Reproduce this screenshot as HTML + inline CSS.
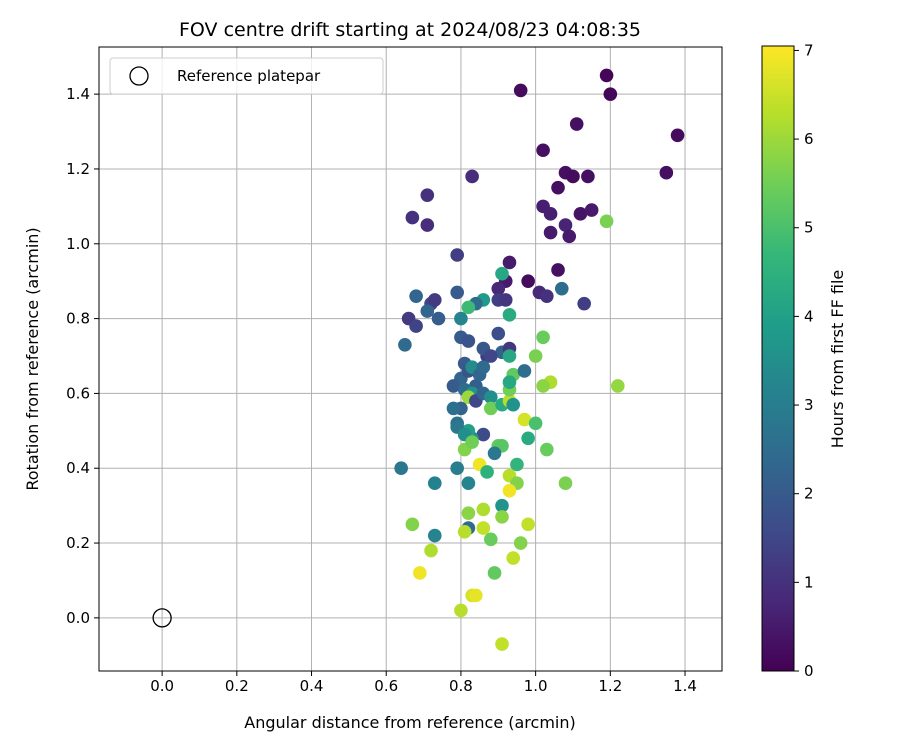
<!DOCTYPE html>
<html><head><meta charset="utf-8"><style>
body{margin:0;background:#fff;font-family:"Liberation Sans","DejaVu Sans",sans-serif}
svg text{font-family:"DejaVu Sans","Liberation Sans",sans-serif;fill:#000}
</style></head><body>
<svg id="chart" width="900" height="750" xmlns="http://www.w3.org/2000/svg">
<rect width="900" height="750" fill="#fff"/>
<g id="grid"></g><g id="pts"></g><g id="axes"></g>
</svg>
<script>
const xs=[1.19,0.96,1.20,1.38,1.11,1.02,0.83,1.35,1.08,1.10,1.14,1.06,0.71,1.02,1.04,1.12,1.15,0.67,1.08,0.71,1.04,1.09,0.79,0.93,1.06,0.98,0.92,0.90,1.19,0.91,1.01,1.03,0.79,0.68,0.86,0.84,0.82,0.90,0.92,1.07,1.13,0.72,0.73,0.71,0.74,0.66,0.80,0.68,0.93,0.65,0.80,0.82,0.90,0.91,0.87,0.93,0.86,0.88,0.93,0.94,0.97,1.00,1.02,1.04,1.22,1.02,0.80,0.81,0.82,0.83,0.84,0.85,0.86,0.78,0.81,0.83,0.82,0.80,0.78,0.84,0.86,0.88,0.88,0.91,0.93,0.93,0.93,0.94,0.86,0.83,0.82,0.79,0.79,0.81,0.81,0.83,0.90,0.91,0.89,0.85,0.87,0.82,0.79,0.64,0.73,0.95,0.98,0.97,1.00,1.03,1.08,0.93,0.95,0.93,0.91,0.91,0.86,0.82,0.82,0.81,0.86,0.88,0.96,0.98,0.67,0.73,0.72,0.69,0.94,0.89,0.83,0.84,0.80,0.91];
const ys=[1.45,1.41,1.40,1.29,1.32,1.25,1.18,1.19,1.19,1.18,1.18,1.15,1.13,1.10,1.08,1.08,1.09,1.07,1.05,1.05,1.03,1.02,0.97,0.95,0.93,0.90,0.90,0.88,1.06,0.92,0.87,0.86,0.87,0.86,0.85,0.84,0.83,0.85,0.85,0.88,0.84,0.84,0.85,0.82,0.80,0.80,0.80,0.78,0.81,0.73,0.75,0.74,0.76,0.71,0.70,0.72,0.72,0.70,0.70,0.65,0.66,0.70,0.75,0.63,0.62,0.62,0.64,0.68,0.66,0.67,0.62,0.65,0.67,0.62,0.61,0.60,0.59,0.56,0.56,0.58,0.60,0.59,0.56,0.57,0.58,0.61,0.63,0.57,0.49,0.48,0.50,0.52,0.51,0.49,0.45,0.47,0.46,0.46,0.44,0.41,0.39,0.36,0.40,0.40,0.36,0.41,0.48,0.53,0.52,0.45,0.36,0.38,0.36,0.34,0.30,0.27,0.29,0.28,0.24,0.23,0.24,0.21,0.20,0.25,0.25,0.22,0.18,0.12,0.16,0.12,0.06,0.06,0.02,-0.07];
const hours=[0.1,0.2,0.1,0.2,0.3,0.3,0.9,0.3,0.3,0.2,0.3,0.3,1.0,0.6,0.6,0.4,0.5,1.0,0.7,0.9,0.5,0.5,1.3,0.5,0.3,0.2,0.5,0.8,5.6,4.2,0.8,1.0,2.0,2.3,3.8,2.5,4.8,1.3,1.1,2.5,1.3,1.5,1.2,2.3,2.1,1.2,3.2,1.4,4.3,2.4,2.0,1.8,1.7,2.2,1.2,1.1,1.9,1.5,4.2,5.3,2.5,5.6,5.4,6.2,5.9,5.8,2.3,2.0,1.8,3.4,2.1,2.3,2.4,2.0,2.5,3.6,6.0,2.2,2.6,1.5,2.3,3.5,5.5,4.3,6.3,5.5,4.2,3.6,1.6,3.4,4.0,2.6,2.8,3.5,5.7,5.5,5.3,5.2,2.8,6.9,4.5,3.2,3.0,2.8,3.1,4.6,4.3,6.6,5.0,5.4,5.6,6.3,5.7,6.9,3.6,5.8,6.2,5.8,2.4,6.3,6.4,5.4,5.7,6.4,5.7,3.2,6.2,6.9,6.4,5.3,6.6,6.8,6.3,6.4];
const xTicks=[0.0,0.2,0.4,0.6,0.8,1.0,1.2,1.4];
const yTicks=[0.0,0.2,0.4,0.6,0.8,1.0,1.2,1.4];
const cTicks=[0,1,2,3,4,5,6,7];
const L=99,R=722,T=47,B=671;
const xmin=-0.169,xmax=1.499,ymin=-0.142,ymax=1.526,cmax=7.05;
const X=v=>L+(v-xmin)/(xmax-xmin)*(R-L);
const Y=v=>B-(v-ymin)/(ymax-ymin)*(B-T);
const CY=v=>671-v/cmax*(671-46);
const V=[[68,1,84],[72,40,120],[62,74,137],[49,104,142],[38,130,142],[31,158,137],[53,183,121],[110,206,88],[181,222,43],[253,231,37]];
function vir(h){let t=Math.max(0,Math.min(1,h/cmax))*(V.length-1);let i=Math.min(V.length-2,Math.floor(t)),f=t-i;
return 'rgb('+V[i].map((c,k)=>Math.round(c+(V[i+1][k]-c)*f)).join(',')+')';}
const NS='http://www.w3.org/2000/svg';
function mk(tag,a,parent){const e=document.createElementNS(NS,tag);for(const k in a)e.setAttribute(k,a[k]);parent.appendChild(e);return e;}
const grid=document.getElementById('grid'),pts=document.getElementById('pts'),ax=document.getElementById('axes');
xTicks.forEach(v=>{const g=mk('line',{x1:X(v),x2:X(v),y1:T,y2:B,stroke:'#b0b0b0','stroke-width':1},grid);


mk('line',{x1:X(v),x2:X(v),y1:B,y2:B+5,stroke:'#000'},ax);
const t=mk('text',{x:X(v),y:B+20,'text-anchor':'middle','font-size':'15'},ax);t.textContent=v.toFixed(1);

});
yTicks.forEach(v=>{const g=mk('line',{x1:L,x2:R,y1:Y(v),y2:Y(v),stroke:'#b0b0b0','stroke-width':1},grid);


mk('line',{x1:L-5,x2:L,y1:Y(v),y2:Y(v),stroke:'#000'},ax);
const t=mk('text',{x:L-9,y:Y(v)+5,'text-anchor':'end','font-size':'15'},ax);t.textContent=v.toFixed(1);

});
xs.forEach((x,i)=>{const c=mk('circle',{cx:X(x),cy:Y(ys[i]),r:6.8,fill:vir(hours[i])},pts);

});
const ref=mk('circle',{cx:X(0),cy:Y(0),r:9,fill:'none',stroke:'#000','stroke-width':1.3},pts);


const fr=mk('rect',{x:L,y:T,width:R-L,height:B-T,fill:'none',stroke:'#000','stroke-width':1},ax);


// legend
const lg=mk('rect',{x:110,y:58,width:273,height:36,rx:3,fill:'#fff','fill-opacity':0.8,stroke:'#ccc'},ax);


mk('circle',{cx:139,cy:76,r:9,fill:'none',stroke:'#000','stroke-width':1.3},ax);
const lt=mk('text',{x:177,y:81,'font-size':'15'},ax);lt.textContent='Reference platepar';


// title & axis titles
const tt=mk('text',{x:410,y:36,'text-anchor':'middle','font-size':'19'},ax);tt.textContent='FOV centre drift starting at 2024/08/23 04:08:35';


const xt=mk('text',{x:410,y:728,'text-anchor':'middle','font-size':'16'},ax);xt.textContent='Angular distance from reference (arcmin)';


const yt=mk('text',{x:0,y:0,'text-anchor':'middle','font-size':'16',transform:'translate(38,359) rotate(-90)'},ax);yt.textContent='Rotation from reference (arcmin)';


// colorbar
const defs=mk('defs',{},ax);const gr=mk('linearGradient',{id:'vg',x1:0,y1:1,x2:0,y2:0},defs);
V.forEach((c,i)=>mk('stop',{offset:i/(V.length-1),'stop-color':'rgb('+c.join(',')+')'},gr));
const cb=mk('rect',{x:762,y:46,width:32,height:625,fill:'url(#vg)',stroke:'#000','stroke-width':1},ax);


cTicks.forEach(v=>{mk('line',{x1:794,x2:799,y1:CY(v),y2:CY(v),stroke:'#000'},ax);
const t=mk('text',{x:804,y:CY(v)+5,'font-size':'15'},ax);t.textContent=String(v);

});
const ct=mk('text',{x:0,y:0,'text-anchor':'middle','font-size':'16',transform:'translate(843,359) rotate(-90)'},ax);ct.textContent='Hours from first FF file';


</script>
</body></html>
